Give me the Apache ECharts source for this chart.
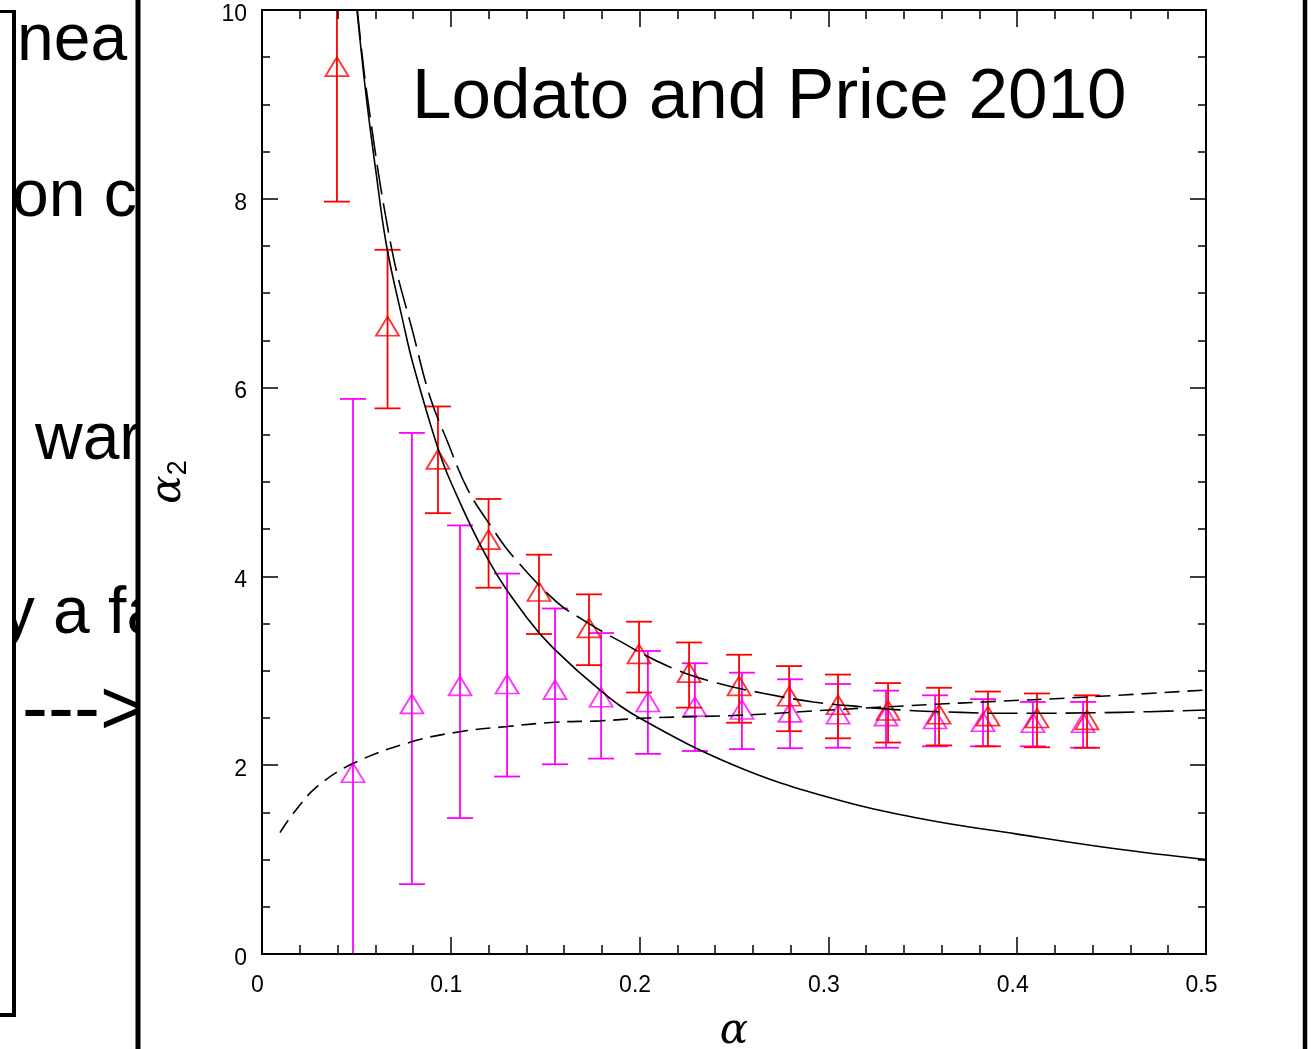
<!DOCTYPE html>
<html>
<head>
<meta charset="utf-8">
<title>alpha_2 versus alpha</title>
<script src="https://cdn.jsdelivr.net/npm/echarts@6/dist/echarts.min.js"></script>
<style>
  html, body { margin: 0; padding: 0; background: #fff; overflow: hidden; }
  #chart { width: 1312px; height: 1049px; }
</style>
</head>
<body>
<div id="chart"></div>
<script>
// Tick labels
const xTickLabels = ['0', '0.1', '0.2', '0.3', '0.4', '0.5'];
const yTickLabels = ['0', '2', '4', '6', '8', '10'];

// Red measurements: alpha, alpha_2 and error-bar limits
const redAlpha = [0.0397, 0.0665, 0.0932, 0.1200, 0.1467, 0.1732, 0.1997, 0.2262, 0.2527, 0.2792, 0.3051, 0.3316, 0.3586, 0.3845, 0.4105, 0.4370];
const redValue = [9.40, 6.65, 5.24, 4.39, 3.84, 3.455, 3.18, 2.98, 2.84, 2.73, 2.64, 2.58, 2.54, 2.52, 2.50, 2.48];
const redLow   = [7.97, 5.78, 4.67, 3.88, 3.39, 3.06, 2.77, 2.61, 2.45, 2.36, 2.285, 2.24, 2.21, 2.20, 2.19, 2.185];
const redHigh  = [10.83, 7.46, 5.80, 4.82, 4.23, 3.81, 3.52, 3.30, 3.17, 3.05, 2.96, 2.87, 2.82, 2.78, 2.76, 2.74];

// Magenta measurements
const magAlpha = [0.0482, 0.0794, 0.1049, 0.1298, 0.1552, 0.1796, 0.2044, 0.2293, 0.2542, 0.2797, 0.3051, 0.3305, 0.3565, 0.3819, 0.4083, 0.4349];
const magValue = [1.92, 2.65, 2.84, 2.86, 2.80, 2.72, 2.67, 2.62, 2.59, 2.56, 2.54, 2.52, 2.49, 2.46, 2.45, 2.45];
const magLow   = [-2.04, 0.74, 1.44, 1.88, 2.01, 2.07, 2.12, 2.15, 2.17, 2.18, 2.185, 2.185, 2.20, 2.20, 2.20, 2.185];
const magHigh  = [5.88, 5.52, 4.54, 4.03, 3.66, 3.40, 3.21, 3.08, 2.98, 2.91, 2.86, 2.79, 2.74, 2.70, 2.67, 2.67];

// Solid model curve
const solidAlpha = [0.0503, 0.0554, 0.0604, 0.066, 0.075, 0.08, 0.0925, 0.1, 0.12, 0.14, 0.1543, 0.18, 0.2, 0.25, 0.3, 0.35, 0.4, 0.45, 0.5];
const solidValue = [10, 9.05, 8.28, 7.5, 6.67, 6.25, 5.40, 5.0, 4.17, 3.57, 3.24, 2.78, 2.5, 2.0, 1.66, 1.43, 1.27, 1.12, 1.0];

// Long-dashed model curve
const longDashAlpha = [0.0505, 0.056, 0.0687, 0.080, 0.089, 0.098, 0.109, 0.122, 0.133, 0.156, 0.170, 0.188, 0.216, 0.241, 0.266, 0.292, 0.317, 0.343, 0.370, 0.39, 0.41, 0.44, 0.47, 0.5];
const longDashValue = [10, 9.05, 7.47, 6.58, 5.90, 5.44, 4.92, 4.51, 4.21, 3.73, 3.54, 3.33, 3.04, 2.87, 2.76, 2.67, 2.62, 2.58, 2.56, 2.55, 2.55, 2.555, 2.567, 2.585];

// Short-dashed model curve
const shortDashAlpha = [0.0095, 0.0166, 0.029, 0.0484, 0.0796, 0.1049, 0.13, 0.155, 0.179, 0.204, 0.254, 0.305, 0.3565, 0.382, 0.435, 0.5];
const shortDashValue = [1.285, 1.49, 1.77, 2.02, 2.25, 2.355, 2.41, 2.455, 2.47, 2.50, 2.53, 2.59, 2.645, 2.67, 2.72, 2.797];

const RED = '#ff0000';
const MAGENTA = '#ff00ff';
const SANS = '"Liberation Sans", Arial, Helvetica, sans-serif';

const zip = (a, b) => a.map((v, i) => [v, b[i]]);
const zip3 = (a, b, c) => a.map((v, i) => [v, b[i], c[i]]);

// Vertical error bar with caps, kept inside the plotting area
function errorBarRenderer(color) {
  return function (params, api) {
    const cs = params.coordSys;
    const x = api.value(0);
    const lo = api.coord([x, api.value(1)]);
    const hi = api.coord([x, api.value(2)]);
    const yMin = cs.y, yMax = cs.y + cs.height;
    const half = 13;
    const style = { stroke: color, lineWidth: 1.8 };
    const yTop = Math.max(hi[1], yMin);
    const yBot = Math.min(lo[1], yMax);
    const children = [{
      type: 'line',
      shape: { x1: lo[0], y1: yBot, x2: hi[0], y2: yTop },
      style: style
    }];
    if (lo[1] <= yMax) {
      children.push({ type: 'line', shape: { x1: lo[0] - half, y1: lo[1], x2: lo[0] + half, y2: lo[1] }, style: style });
    }
    if (hi[1] >= yMin) {
      children.push({ type: 'line', shape: { x1: hi[0] - half, y1: hi[1], x2: hi[0] + half, y2: hi[1] }, style: style });
    }
    return { type: 'group', children: children };
  };
}

const tickLine = { color: '#000', width: 1.5 };

function xAxisDef(pos, showLabels) {
  return {
    type: 'value', position: pos, min: 0, max: 0.5, interval: 0.1, z: 10,
    axisLine: { show: true, onZero: false, lineStyle: { color: '#000', width: 2 } },
    axisTick: { show: true, inside: true, length: 17, lineStyle: tickLine },
    minorTick: { show: true, splitNumber: 5, length: 9, lineStyle: tickLine },
    splitLine: { show: false },
    axisLabel: {
      show: showLabels, color: '#000', fontSize: 23, fontFamily: SANS, margin: 20,
      padding: [0, 9, 0, 0],
      formatter: (v, i) => xTickLabels[i]
    }
  };
}

function yAxisDef(pos, showLabels) {
  return {
    type: 'value', position: pos, min: 0, max: 10, interval: 2, z: 10,
    axisLine: { show: true, onZero: false, lineStyle: { color: '#000', width: 2 } },
    axisTick: { show: true, inside: true, length: 16, lineStyle: tickLine },
    minorTick: { show: true, splitNumber: 4, length: 8, lineStyle: tickLine },
    splitLine: { show: false },
    axisLabel: {
      show: showLabels, color: '#000', fontSize: 23, fontFamily: SANS, margin: 15,
      verticalAlign: 'top', lineHeight: 9,
      formatter: (v, i) => yTickLabels[i]
    }
  };
}

const xBottom = xAxisDef('bottom', true);
xBottom.name = 'α';
xBottom.nameLocation = 'middle';
xBottom.nameGap = 57;
xBottom.nameTextStyle = { fontFamily: '"DejaVu Serif", serif', fontStyle: 'italic', fontSize: 42, color: '#000' };

const yLeft = yAxisDef('left', true);
yLeft.name = '{a|α}{s|2}';
yLeft.nameLocation = 'middle';
yLeft.nameGap = 70;
yLeft.nameRotate = 90;
yLeft.nameTextStyle = {
  color: '#000',
  rich: {
    a: { fontFamily: '"DejaVu Serif", serif', fontStyle: 'italic', fontSize: 42, lineHeight: 44, verticalAlign: 'top', color: '#000' },
    s: { fontFamily: SANS, fontSize: 27, lineHeight: 28, verticalAlign: 'bottom', color: '#000' }
  }
};

// Slide fragments around the figure
const bigFont = '66px ' + SANS;
const graphic = [
  { type: 'text', z: 1, style: { text: 'nea', x: 17, y: 42, font: bigFont, fill: '#000', verticalAlign: 'middle' } },
  { type: 'text', z: 1, style: { text: 'on c', x: 12, y: 198, font: bigFont, fill: '#000', verticalAlign: 'middle' } },
  { type: 'text', z: 1, style: { text: 'war', x: 35, y: 441, font: bigFont, fill: '#000', verticalAlign: 'middle' } },
  { type: 'text', z: 1, style: { text: 'by a fa', x: -35, y: 615, font: bigFont, fill: '#000', verticalAlign: 'middle' } },
  { type: 'text', z: 1, style: { text: '--->', x: 22, y: 712, font: '78px ' + SANS, fill: '#000', verticalAlign: 'middle' } },
  // masks that trim the fragments to the text column
  { type: 'rect', z: 3, shape: { x: 0, y: 0, width: 12, height: 1049 }, style: { fill: '#fff' } },
  { type: 'rect', z: 3, shape: { x: 139, y: 0, width: 60, height: 1049 }, style: { fill: '#fff' } },
  // column borders
  { type: 'line', z: 4, shape: { x1: 14, y1: 10, x2: 14, y2: 1017 }, style: { stroke: '#000', lineWidth: 4 } },
  { type: 'line', z: 4, shape: { x1: 0, y1: 11.5, x2: 16, y2: 11.5 }, style: { stroke: '#000', lineWidth: 3 } },
  { type: 'line', z: 4, shape: { x1: 0, y1: 1015, x2: 16, y2: 1015 }, style: { stroke: '#000', lineWidth: 4 } },
  { type: 'line', z: 4, shape: { x1: 138, y1: 0, x2: 138, y2: 1049 }, style: { stroke: '#000', lineWidth: 5 } },
  { type: 'line', z: 4, shape: { x1: 1305, y1: 0, x2: 1305, y2: 1049 }, style: { stroke: '#000', lineWidth: 4.5 } },
  // figure caption inside the plot
  { type: 'text', z: 20, style: { text: 'Lodato and Price 2010', x: 412, y: 98, font: '71px ' + SANS, fill: '#000', verticalAlign: 'middle' } }
];

const chart = echarts.init(document.getElementById('chart'), null, { renderer: 'canvas', width: 1312, height: 1049 });
chart.setOption({
  animation: false,
  backgroundColor: '#fff',
  grid: { left: 262, top: 10, width: 944, height: 944, containLabel: false, outerBoundsMode: 'none' },
  xAxis: [xBottom, xAxisDef('top', false)],
  yAxis: [yLeft, yAxisDef('right', false)],
  graphic: graphic,
  series: [
    {
      name: 'magenta-err', type: 'custom', xAxisIndex: 0, yAxisIndex: 0, z: 2,
      renderItem: errorBarRenderer(MAGENTA),
      data: zip3(magAlpha, magLow, magHigh)
    },
    {
      name: 'magenta', type: 'scatter', xAxisIndex: 0, yAxisIndex: 0, z: 3,
      symbol: 'triangle', symbolSize: [23, 19],
      itemStyle: { color: 'rgba(0,0,0,0)', borderColor: MAGENTA, borderWidth: 1.8 },
      data: zip(magAlpha, magValue)
    },
    {
      name: 'red-err', type: 'custom', xAxisIndex: 0, yAxisIndex: 0, z: 4,
      renderItem: errorBarRenderer(RED),
      data: zip3(redAlpha, redLow, redHigh)
    },
    {
      name: 'red', type: 'scatter', xAxisIndex: 0, yAxisIndex: 0, z: 5,
      symbol: 'triangle', symbolSize: [23, 19],
      itemStyle: { color: 'rgba(0,0,0,0)', borderColor: RED, borderWidth: 1.8 },
      data: zip(redAlpha, redValue)
    },
    {
      name: 'solid', type: 'line', xAxisIndex: 0, yAxisIndex: 0, z: 6,
      smooth: 0.4, showSymbol: false, symbol: 'none', clip: true,
      lineStyle: { color: '#000', width: 1.6, type: 'solid' },
      data: zip(solidAlpha, solidValue)
    },
    {
      name: 'long-dash', type: 'line', xAxisIndex: 0, yAxisIndex: 0, z: 6,
      smooth: 0.4, showSymbol: false, symbol: 'none', clip: true,
      lineStyle: { color: '#000', width: 1.6, type: [30, 9] },
      data: zip(longDashAlpha, longDashValue)
    },
    {
      name: 'short-dash', type: 'line', xAxisIndex: 0, yAxisIndex: 0, z: 6,
      smooth: 0.4, showSymbol: false, symbol: 'none', clip: true,
      lineStyle: { color: '#000', width: 1.6, type: [15, 8] },
      data: zip(shortDashAlpha, shortDashValue)
    }
  ]
});
</script>
</body>
</html>
